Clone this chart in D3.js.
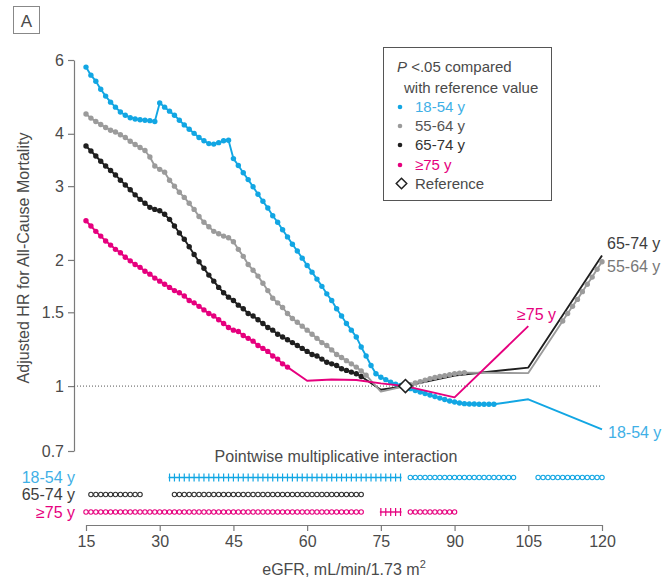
<!DOCTYPE html>
<html>
<head>
<meta charset="utf-8">
<style>
 body { margin: 0; background: #fff; }
 svg text { font-family: "Liberation Sans", Arial, sans-serif; fill: #4a4a4a; }
 .axis path, .axis line { stroke: #7a7a7a; stroke-width: 1.2px; }
</style>
</head>
<body>
<svg width="663" height="577"></svg>
<script src="https://cdn.jsdelivr.net/npm/d3@7"></script>
<script>

 // axis ticks
 var egfrTicks = [15, 30, 45, 60, 75, 90, 105, 120];
 var hrTicks = [0.7, 1, 1.5, 2, 3, 4, 6];

 // adjusted HR by eGFR, [eGFR, HR]
 var hr1854 = [[15,5.77],[16,5.52],[17,5.34],[18,5.11],[19,4.92],[20,4.76],[21,4.63],[22,4.51],[23,4.43],[24,4.37],
               [25,4.34],[26,4.32],[27,4.31],[28,4.30],[29,4.28],[30,4.74],[31,4.63],[32,4.53],[33,4.43],[34,4.31],
               [35,4.20],[36,4.10],[37,4.01],[38,3.92],[39,3.85],[40,3.79],[41,3.78],[42,3.81],[43,3.85],[44,3.86],
               [45,3.49],[46,3.36],[47,3.23],[48,3.11],[49,2.99],[50,2.87],[51,2.76],[52,2.66],[53,2.55],[54,2.46],
               [55,2.36],[56,2.27],[57,2.18],[58,2.10],[59,2.02],[60,1.94],[61,1.87],[62,1.80],[63,1.73],[64,1.66],
               [65,1.60],[66,1.53],[67,1.47],[68,1.41],[69,1.36],[70,1.31],[71,1.24],[72,1.18],[73,1.12],[74,1.07],
               [75,1.05],[76,1.036],[77,1.022],[78,1.011],[79,1.003],[80,1],[81,0.986],[82,0.976],[83,0.968],[84,0.960],
               [85,0.952],[86,0.944],[87,0.936],[88,0.929],[89,0.921],[90,0.916],[91,0.911],[92,0.908],[93,0.906],[94,0.906],
               [95,0.905],[96,0.905],[97,0.905],[98,0.905],[105,0.93],[120,0.788]];

 var hr5564 = [[15,4.46],[16,4.36],[17,4.28],[18,4.21],[19,4.14],[20,4.08],[21,4.04],[22,3.98],[23,3.92],[24,3.84],
               [25,3.77],[26,3.71],[27,3.65],[28,3.52],[29,3.35],[30,3.29],[31,3.24],[32,3.10],[33,3.00],[34,2.90],
               [35,2.82],[36,2.73],[37,2.64],[38,2.54],[39,2.46],[40,2.40],[41,2.34],[42,2.31],[43,2.28],[44,2.26],
               [45,2.21],[46,2.12],[47,2.04],[48,1.95],[49,1.89],[50,1.83],[51,1.76],[52,1.69],[53,1.62],[54,1.58],
               [55,1.54],[56,1.49],[57,1.45],[58,1.42],[59,1.39],[60,1.36],[61,1.33],[62,1.30],[63,1.27],[64,1.25],
               [65,1.22],[66,1.19],[67,1.17],[68,1.15],[69,1.13],[70,1.11],[71,1.086],[72,1.062],[75,0.97],[80,1],
               [81,1.008],[82,1.017],[83,1.025],[84,1.033],[85,1.042],[86,1.048],[87,1.054],[88,1.059],[89,1.065],[90,1.071],
               [91,1.074],[92,1.077],[105,1.074],[112,1.43],[113,1.49],[114,1.55],[115,1.61],[116,1.68],[117,1.75],[118,1.82],
               [119,1.90],[120,1.98]];

 var hr6574 = [[15,3.74],[16,3.64],[17,3.54],[18,3.44],[19,3.35],[20,3.27],[21,3.19],[22,3.10],[23,3.02],[24,2.94],
               [25,2.86],[26,2.79],[27,2.73],[28,2.67],[29,2.64],[30,2.62],[31,2.57],[32,2.50],[33,2.41],[34,2.32],
               [35,2.24],[36,2.15],[37,2.06],[38,1.98],[39,1.91],[40,1.84],[41,1.78],[42,1.72],[43,1.67],[44,1.63],
               [45,1.60],[46,1.56],[47,1.53],[48,1.49],[49,1.47],[50,1.44],[51,1.41],[52,1.38],[53,1.36],[54,1.33],
               [55,1.31],[56,1.29],[57,1.27],[58,1.25],[59,1.23],[60,1.21],[61,1.19],[62,1.18],[63,1.16],[64,1.14],
               [65,1.13],[66,1.12],[67,1.10],[68,1.09],[69,1.08],[70,1.07],[71,1.054],[75,0.98],[80,1],[90,1.06],
               [105,1.107],[120,2.05]];

 var hr75 = [[15,2.48],[16,2.41],[17,2.34],[18,2.28],[19,2.22],[20,2.17],[21,2.12],[22,2.08],[23,2.03],[24,1.99],
             [25,1.95],[26,1.92],[27,1.88],[28,1.85],[29,1.81],[30,1.78],[31,1.75],[32,1.72],[33,1.69],[34,1.67],
             [35,1.64],[36,1.60],[37,1.58],[38,1.55],[39,1.52],[40,1.49],[41,1.47],[42,1.44],[43,1.41],[44,1.38],
             [45,1.36],[46,1.35],[47,1.32],[48,1.30],[49,1.28],[50,1.25],[51,1.23],[52,1.21],[53,1.18],[54,1.16],
             [55,1.13],[56,1.11],[60,1.03],[65,1.037],[70,1.034],[75,1.015],[80,1],[90,0.94],[105,1.39]];

 // eGFR ranges with P<.05 vs reference (dotted)
 var sig1854 = [[15,79],[81,98]];
 var sig5564 = [[15,72],[81,92],[112,120]];
 var sig6574 = [[15,71]];
 var sig75 = [[15,56]];

 // pointwise multiplicative interaction rows: [from, to, mark]
 var inter1854 = [[32,79,'plus'],[81,102,'circle'],[107,120,'circle']];
 var inter6574 = [[16,26,'circle'],[33,71,'circle']];
 var inter75 = [[15,71,'circle'],[75,79,'plus'],[81,90,'circle']];

 var blue = '#12a6e3', gray = '#9b9b9b', black = '#1f1f1f', pink = '#e6007e';

 var series = [
     { name: '18-54 y', data: hr1854, sig: sig1854, color: blue },
     { name: '65-74 y', data: hr6574, sig: sig6574, color: black },
     { name: '55-64 y', data: hr5564, sig: sig5564, color: gray },
     { name: '≥75 y', data: hr75, sig: sig75, color: pink }
 ];

 var svg = d3.select('svg');

 var x = d3.scaleLinear().domain([15, 120]).range([86, 602]);
 var y = d3.scaleLog().domain([0.7, 6]).range([451, 60]);

 /*
  * axes
  */
 var yAxis = svg.append('g')
                .attr('class', 'axis')
                .attr('transform', 'translate(74,0)')
                .call(d3.axisLeft(y).tickValues(hrTicks).tickFormat(function(d) { return String(d); })
                        .tickSize(6).tickPadding(4).tickSizeOuter(0));
 yAxis.selectAll('text').attr('font-size', 16).attr('font-family', null);

 var xAxis = svg.append('g')
                .attr('class', 'axis')
                .attr('transform', 'translate(0,525)')
                .call(d3.axisBottom(x).tickValues(egfrTicks).tickSize(6).tickPadding(5).tickSizeOuter(0));
 xAxis.selectAll('text').attr('font-size', 16).attr('font-family', null);

 svg.append('text')
    .attr('transform', 'translate(29,258) rotate(-90)')
    .attr('text-anchor', 'middle')
    .attr('font-size', 16)
    .text('Adjusted HR for All-Cause Mortality');

 var xt = svg.append('text')
             .attr('x', 344).attr('y', 575)
             .attr('text-anchor', 'middle')
             .attr('font-size', 16)
             .text('eGFR, mL/min/1.73 m');
 xt.append('tspan').attr('font-size', 11).attr('dy', -7).text('2');

 // reference line at HR 1
 svg.append('line')
    .attr('x1', 74).attr('x2', x(120))
    .attr('y1', y(1)).attr('y2', y(1))
    .attr('stroke', '#555').attr('stroke-width', 1)
    .attr('stroke-dasharray', '1,2');

 // panel label
 svg.append('rect').attr('x', 13.5).attr('y', 6.5).attr('width', 26).attr('height', 27)
    .attr('fill', 'none').attr('stroke', '#888');
 svg.append('text').attr('x', 26.5).attr('y', 27).attr('text-anchor', 'middle')
    .attr('font-size', 17).text('A');

 /*
  * curves
  */
 var line = d3.line()
              .x(function(d) { return x(d[0]); })
              .y(function(d) { return y(d[1]); });

 function inSig(e, ranges) {
     return ranges.some(function(r) { return e >= r[0] && e <= r[1]; });
 }

 series.forEach(function(s) {
     var g = svg.append('g');
     g.append('path')
      .datum(s.data)
      .attr('d', line)
      .attr('fill', 'none')
      .attr('stroke', s.color)
      .attr('stroke-width', 1.9)
      .attr('stroke-linejoin', 'round');
     g.selectAll('circle')
      .data(s.data.filter(function(d) { return inSig(d[0], s.sig); }))
      .enter()
      .append('circle')
      .attr('cx', function(d) { return x(d[0]); })
      .attr('cy', function(d) { return y(d[1]); })
      .attr('r', 2.7)
      .attr('fill', s.color);
 });

 // reference diamond
 var diamond = d3.symbol().type(d3.symbolDiamond2).size(110);
 svg.append('path')
    .attr('d', diamond())
    .attr('transform', 'translate(' + x(80) + ',' + y(1) + ')')
    .attr('fill', '#fff').attr('stroke', '#222').attr('stroke-width', 1.6);

 // end labels
 var endLabels = [
     { text: '65-74 y', x: 607, y: 249, color: '#3d3d3d' },
     { text: '55-64 y', x: 607, y: 272, color: '#777' },
     { text: '18-54 y', x: 608, y: 438, color: '#3fb0e6' },
     { text: '≥75 y', x: 517, y: 320, color: pink }
 ];
 svg.selectAll('.endlab')
    .data(endLabels)
    .enter()
    .append('text')
    .attr('x', function(d) { return d.x; })
    .attr('y', function(d) { return d.y; })
    .attr('font-size', 16)
    .style('fill', function(d) { return d.color; })
    .text(function(d) { return d.text; });

 /*
  * legend
  */
 var lg = svg.append('g');
 lg.append('rect').attr('x', 383.5).attr('y', 47.5).attr('width', 168).attr('height', 153)
   .attr('fill', 'none').attr('stroke', '#555');
 var t1 = lg.append('text').attr('x', 397).attr('y', 72).attr('font-size', 15);
 t1.append('tspan').attr('font-style', 'italic').text('P');
 t1.append('tspan').text(' <.05 compared');
 lg.append('text').attr('x', 404).attr('y', 93).attr('font-size', 15).text('with reference value');

 var legendItems = [
     { text: '18-54 y', color: blue, tcol: '#3fb0e6' },
     { text: '55-64 y', color: gray, tcol: '#555' },
     { text: '65-74 y', color: black, tcol: '#333' },
     { text: '≥75 y', color: pink, tcol: pink }
 ];
 var legendY = [112, 131, 150, 170];
 legendItems.forEach(function(d, i) {
     lg.append('circle').attr('cx', 400).attr('cy', legendY[i] - 5).attr('r', 2.3).attr('fill', d.color);
     lg.append('text').attr('x', 415).attr('y', legendY[i]).attr('font-size', 15)
       .style('fill', d.tcol).text(d.text);
 });
 lg.append('path')
   .attr('d', d3.symbol().type(d3.symbolDiamond2).size(70)())
   .attr('transform', 'translate(401.5,183.5)')
   .attr('fill', '#fff').attr('stroke', '#222').attr('stroke-width', 1.5);
 lg.append('text').attr('x', 415).attr('y', 189).attr('font-size', 15).text('Reference');

 /*
  * pointwise multiplicative interaction
  */
 svg.append('text').attr('x', 336).attr('y', 462).attr('text-anchor', 'middle')
    .attr('font-size', 16).text('Pointwise multiplicative interaction');

 var rows = [
     { name: '18-54 y', marks: inter1854, color: blue, tcol: '#3fb0e6', y: 477.5 },
     { name: '65-74 y', marks: inter6574, color: '#333', tcol: '#3d3d3d', y: 494.5 },
     { name: '≥75 y', marks: inter75, color: pink, tcol: pink, y: 512 }
 ];

 rows.forEach(function(r) {
     var g = svg.append('g');
     g.append('text').attr('x', 75).attr('y', r.y + 5.5).attr('text-anchor', 'end')
      .attr('font-size', 16).style('fill', r.tcol).text(r.name);
     r.marks.forEach(function(m) {
         var pts = d3.range(m[0], m[1] + 1);
         if (m[2] === 'circle') {
             g.selectAll(null)
              .data(pts)
              .enter()
              .append('circle')
              .attr('cx', function(e) { return x(e); })
              .attr('cy', r.y)
              .attr('r', 2.2)
              .attr('fill', 'none')
              .attr('stroke', r.color)
              .attr('stroke-width', 1.1);
         } else {
             g.append('line')
              .attr('x1', x(m[0]) - 1).attr('x2', x(m[1]) + 1)
              .attr('y1', r.y).attr('y2', r.y)
              .attr('stroke', r.color).attr('stroke-width', 1.4);
             g.selectAll(null)
              .data(pts)
              .enter()
              .append('line')
              .attr('x1', function(e) { return x(e); })
              .attr('x2', function(e) { return x(e); })
              .attr('y1', r.y - 4).attr('y2', r.y + 4)
              .attr('stroke', r.color).attr('stroke-width', 1.2);
         }
     });
 });

</script>
</body>
</html>
